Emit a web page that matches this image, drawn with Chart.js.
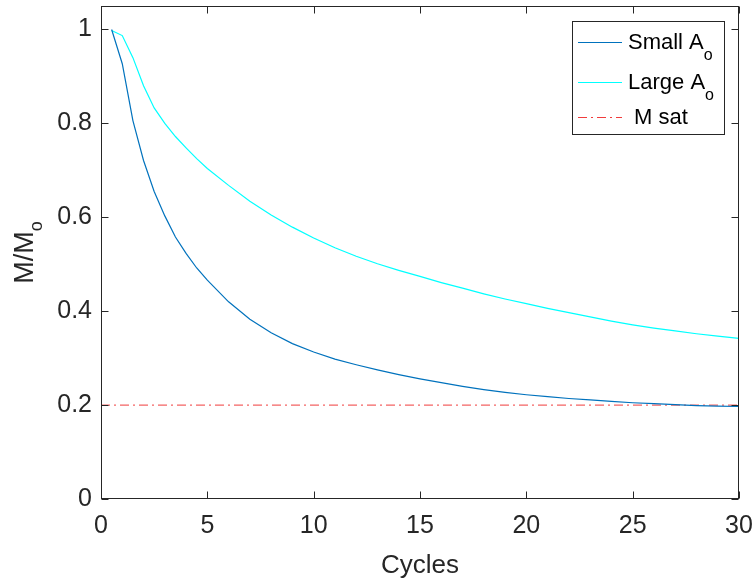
<!DOCTYPE html>
<html>
<head>
<meta charset="utf-8">
<script src="https://cdn.jsdelivr.net/npm/chart.js@4/dist/chart.umd.min.js"></script>
<style>
  html, body { margin: 0; padding: 0; background: #fff; }
  #wrap { width: 755px; height: 580px; }
</style>
</head>
<body>
<div id="wrap"><canvas id="myChart" width="755" height="580"></canvas></div>
<script>
// values
var cycles = [0.5, 1, 1.5, 2, 2.5, 3, 3.5, 4, 4.5, 5, 6, 7, 8, 9, 10, 11, 12, 13, 14, 15,
              16, 17, 18, 19, 20, 21, 22, 23, 24, 25, 26, 27, 28, 29, 30];
var smallA = [1.0, 0.927, 0.806, 0.721, 0.655, 0.603, 0.558, 0.523, 0.492, 0.466, 0.420, 0.383,
              0.354, 0.331, 0.313, 0.298, 0.286, 0.275, 0.265, 0.256, 0.248, 0.240, 0.233, 0.227,
              0.222, 0.218, 0.214, 0.211, 0.208, 0.205, 0.203, 0.201, 0.199, 0.198, 0.197];
var largeA = [0.998, 0.987, 0.94, 0.88, 0.833, 0.80, 0.772, 0.748, 0.725, 0.704, 0.668, 0.634,
              0.605, 0.579, 0.556, 0.535, 0.517, 0.501, 0.487, 0.474, 0.461, 0.449, 0.437, 0.426,
              0.416, 0.406, 0.397, 0.388, 0.379, 0.371, 0.364, 0.358, 0.352, 0.347, 0.342];
var satX = [0, 30];
var satY = [0.2, 0.2];
var xTicks = [0, 5, 10, 15, 20, 25, 30];
var yTicks = [0, 0.2, 0.4, 0.6, 0.8, 1];

var FONT = "'Liberation Sans', Arial, Helvetica, sans-serif";
var AXIS = '#262626';

function pts(xs, ys) {
  return xs.map(function (x, i) { return { x: x, y: ys[i] }; });
}

// box, inward ticks, titles and legend the matlab way
var matlabAxes = {
  id: 'matlabAxes',
  afterDraw: function (chart) {
    var c = chart.ctx, a = chart.chartArea;
    var xs = chart.scales.x, ys = chart.scales.y;
    var L = Math.round(a.left) + 0.5, R = Math.round(a.right) - 0.5;
    var T = Math.round(a.top) + 0.5, B = Math.round(a.bottom) - 0.5;
    c.save();
    c.strokeStyle = AXIS;
    c.lineWidth = 1;
    c.strokeRect(L, T, R - L, B - T);
    c.beginPath();
    xTicks.forEach(function (v) {
      var px = Math.round(xs.getPixelForValue(v)) + 0.5;
      c.moveTo(px, B); c.lineTo(px, B - 7);
      c.moveTo(px, T); c.lineTo(px, T + 7);
    });
    yTicks.forEach(function (v) {
      var py = Math.round(ys.getPixelForValue(v)) + 0.5;
      c.moveTo(L, py); c.lineTo(L + 7, py);
      c.moveTo(R, py); c.lineTo(R - 7, py);
    });
    c.stroke();

    // x title
    c.fillStyle = AXIS;
    c.font = '26px ' + FONT;
    c.textAlign = 'center';
    c.textBaseline = 'alphabetic';
    c.fillText('Cycles', (a.left + a.right) / 2, 573);

    // y title M/M_o
    c.save();
    c.translate(33, (a.top + a.bottom) / 2);
    c.rotate(-Math.PI / 2);
    c.font = '27px ' + FONT;
    var w1 = c.measureText('M/M').width;
    c.font = '18px ' + FONT;
    var w2 = c.measureText('o').width;
    c.textAlign = 'left';
    c.font = '27px ' + FONT;
    c.fillText('M/M', -(w1 + w2) / 2, 0);
    c.font = '18px ' + FONT;
    c.fillText('o', -(w1 + w2) / 2 + w1, 9);
    c.restore();

    // legend
    c.fillStyle = '#fff';
    c.fillRect(572.5, 21.5, 152, 113);
    c.strokeStyle = AXIS;
    c.strokeRect(572.5, 21.5, 152, 113);
    var rows = [42.5, 82.5, 117.5];
    chart.data.datasets.forEach(function (ds, i) {
      var y = rows[i];
      c.strokeStyle = ds.borderColor;
      c.lineWidth = ds.borderWidth;
      c.setLineDash(ds.borderDash || []);
      c.beginPath(); c.moveTo(578, y); c.lineTo(622, y); c.stroke();
      c.setLineDash([]);
      c.fillStyle = '#000';
      c.textAlign = 'left';
      var parts = ds.label.split('_');
      c.font = '22px ' + FONT;
      c.fillText(parts[0], 628, y + 6);
      if (parts[1]) {
        var w = c.measureText(parts[0]).width;
        c.font = '16px ' + FONT;
        c.fillText(parts[1], 628 + w, y + 17);
      }
    });
    c.restore();
  }
};

new Chart(document.getElementById('myChart'), {
  type: 'line',
  data: {
    datasets: [{
      label: 'Small A_o',
      data: pts(cycles, smallA),
      borderColor: '#0072BD',
      borderWidth: 1.2,
      pointRadius: 0,
      tension: 0
    }, {
      label: 'Large A_o',
      data: pts(cycles, largeA),
      borderColor: '#00FFFF',
      borderWidth: 1.2,
      pointRadius: 0,
      tension: 0
    }, {
      label: ' M sat',
      data: pts(satX, satY),
      borderColor: '#F03C3C',
      borderWidth: 1,
      borderDash: [9, 4, 2, 4],
      pointRadius: 0,
      tension: 0
    }]
  },
  options: {
    responsive: false,
    animation: false,
    layout: { padding: { top: 6, right: 16, left: 0, bottom: 0 } },
    plugins: { legend: { display: false }, tooltip: { enabled: false } },
    scales: {
      x: {
        type: 'linear',
        min: 0, max: 30,
        grid: { display: false, drawTicks: false },
        border: { display: false },
        afterFit: function (s) { s.height = 81; s.paddingLeft = 0; s.paddingRight = 0; },
        afterBuildTicks: function (s) { s.ticks = xTicks.map(function (v) { return { value: v }; }); },
        ticks: { color: AXIS, font: { size: 25, family: FONT }, padding: 12, maxRotation: 0 }
      },
      y: {
        min: 0, max: 1.05,
        grid: { display: false, drawTicks: false },
        border: { display: false },
        afterFit: function (s) { s.width = 101; s.paddingTop = 0; s.paddingBottom = 0; },
        afterBuildTicks: function (s) { s.ticks = yTicks.map(function (v) { return { value: v }; }); },
        ticks: {
          color: AXIS, font: { size: 25, family: FONT }, padding: 9,
          callback: function (v) { return String(Math.round(v * 10) / 10); }
        }
      }
    }
  },
  plugins: [matlabAxes]
});
</script>
</body>
</html>
